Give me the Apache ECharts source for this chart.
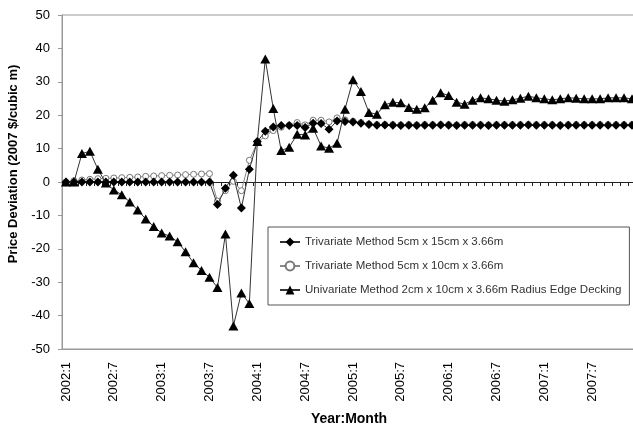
<!DOCTYPE html>
<html>
<head>
<meta charset="utf-8">
<script src="https://cdn.jsdelivr.net/npm/echarts@6/dist/echarts.min.js"></script>
<style>html,body{margin:0;padding:0;background:#fff}#c{width:633px;height:428px}</style>
</head>
<body>
<div id="c"></div>
<script>
var months = [
 "2002:1","2002:2","2002:3","2002:4","2002:5","2002:6","2002:7","2002:8","2002:9","2002:10","2002:11","2002:12",
 "2003:1","2003:2","2003:3","2003:4","2003:5","2003:6","2003:7","2003:8","2003:9","2003:10","2003:11","2003:12",
 "2004:1","2004:2","2004:3","2004:4","2004:5","2004:6","2004:7","2004:8","2004:9","2004:10","2004:11","2004:12",
 "2005:1","2005:2","2005:3","2005:4","2005:5","2005:6","2005:7","2005:8","2005:9","2005:10","2005:11","2005:12",
 "2006:1","2006:2","2006:3","2006:4","2006:5","2006:6","2006:7","2006:8","2006:9","2006:10","2006:11","2006:12",
 "2007:1","2007:2","2007:3","2007:4","2007:5","2007:6","2007:7","2007:8","2007:9","2007:10","2007:11","2007:12"
];
var seriesNames = [
 "Trivariate Method 5cm x 15cm x 3.66m",
 "Trivariate Method 5cm x 10cm x 3.66m",
 "Univariate Method 2cm x 10cm x 3.66m Radius Edge Decking"
];
var tri5x15 = [
 0,0,0,0,0,0,0,0,0,0,0,0,0,0,0,0,0,0,0,
 -6.7,-1.9,2.0,-7.8,3.8,12.1,15.2,16.5,16.9,16.9,16.9,16.3,17.6,17.5,15.8,18.3,18.1,18.0,17.6,17.2,17.0,
 17.1,17.0,16.9,17.0,16.9,17.0,17.0,17.1,17.0,16.9,17.0,17.0,17.0,16.9,17.0,17.0,
 17.0,17.0,17.1,17.0,17.0,17.0,16.9,17.0,17.0,17.0,17.0,17.0,17.0,17.0,17.0,17.0
];
var tri5x10 = [
 0,0.4,0.6,0.8,1.0,1.1,1.2,1.3,1.4,1.5,1.7,1.8,1.9,2.0,2.1,2.2,2.3,2.4,2.5,
 -5.7,-2.6,0.2,-2.6,6.5,11.8,13.8,15.4,16.4,17.0,17.8,17.1,18.5,18.5,18.0,19.2,18.6,18.2,17.8,17.4,17.2,
 17.2,17.2,17.1,17.2,17.1,17.2,17.2,17.2,17.2,17.1,17.2,17.2,17.2,17.1,17.2,17.2,
 17.2,17.2,17.2,17.2,17.2,17.2,17.1,17.2,17.2,17.2,17.2,17.2,17.2,17.2,17.2,17.2
];
var uni2x10 = [
 0,0,8.5,9.2,3.8,-0.3,-2.4,-3.8,-6.0,-8.4,-11.1,-13.3,-15.3,-16.2,-17.9,-20.9,-24.2,-26.5,-28.5,-31.6,
 -15.6,-43.1,-33.2,-36.4,12.1,36.8,22.0,9.4,10.4,14.3,14.1,16.1,10.8,10.1,11.6,21.8,30.6,27.1,20.8,20.3,
 23.1,23.9,23.7,22.3,21.8,22.2,24.5,26.7,25.9,23.9,23.3,24.5,25.2,24.9,24.5,24.2,
 24.6,25.1,25.7,25.2,24.9,24.6,24.9,25.2,25.1,24.9,24.9,24.9,25.2,25.2,25.2,24.9
];

var FONT = "'Liberation Sans', Arial, sans-serif";
var chart = echarts.init(document.getElementById('c'), null, {renderer: 'canvas'});
chart.setOption({
  animation: false,
  backgroundColor: '#fff',
  textStyle: {fontFamily: FONT},
  grid: {left: 62, top: 15, right: -3, bottom: 79, outerBoundsMode: 'none', containLabel: false,
         show: true, borderColor: '#999', borderWidth: 1, backgroundColor: 'transparent'},
  legend: {
    orient: 'vertical', left: 268, top: 227,
    data: seriesNames,
    backgroundColor: '#fff', borderColor: '#555', borderWidth: 1,
    padding: [9, 8, 9, 11], itemGap: 12, itemWidth: 20, itemHeight: 11,
    textStyle: {fontSize: 11.5, color: '#333', fontFamily: FONT}
  },
  xAxis: [
    {
      type: 'category', data: months, position: 'bottom',
      axisLine: {onZero: false, lineStyle: {color: '#999', width: 1}},
      axisTick: {show: false},
      axisLabel: {rotate: 90, interval: 5, fontSize: 13, color: '#000', margin: 13, fontFamily: FONT},
      splitLine: {show: false},
      name: 'Year:Month', nameLocation: 'middle', nameGap: 63,
      nameTextStyle: {fontSize: 14, fontWeight: 'bold', color: '#000', fontFamily: FONT}
    },
    {
      type: 'category', data: months, position: 'top',
      axisLine: {onZero: true, lineStyle: {color: '#222', width: 1}},
      axisTick: {show: true, interval: 0, inside: true, length: 4, lineStyle: {color: '#222'}},
      axisLabel: {show: false},
      splitLine: {show: false}
    }
  ],
  yAxis: {
    type: 'value', min: -50, max: 50, interval: 10,
    axisLine: {show: true, lineStyle: {color: '#999'}},
    axisTick: {show: true, length: 4, lineStyle: {color: '#999'}},
    axisLabel: {fontSize: 13, color: '#000', margin: 12, fontFamily: FONT},
    splitLine: {show: false},
    name: 'Price Deviation (2007 $/cubic m)', nameLocation: 'middle', nameGap: 38,
    nameTextStyle: {fontSize: 13, fontWeight: 'bold', color: '#000', fontFamily: FONT, padding: [0, 0, 0, 36]}
  },
  series: [
    {
      name: seriesNames[0], type: 'line', data: tri5x15, xAxisIndex: 0, z: 3,
      symbol: 'diamond', symbolSize: [9, 9], showAllSymbol: true,
      lineStyle: {color: '#333', width: 1},
      itemStyle: {color: '#000', borderColor: '#000', borderWidth: 0}
    },
    {
      name: seriesNames[1], type: 'line', data: tri5x10, xAxisIndex: 0, z: 2,
      symbol: 'circle', symbolSize: 6, showAllSymbol: true,
      lineStyle: {color: '#888', width: 1},
      itemStyle: {color: '#fff', borderColor: '#777', borderWidth: 1}
    },
    {
      name: seriesNames[2], type: 'line', data: uni2x10, xAxisIndex: 0, z: 4,
      symbol: 'triangle', symbolSize: [10, 9], showAllSymbol: true,
      lineStyle: {color: '#333', width: 1},
      itemStyle: {color: '#000', borderColor: '#000', borderWidth: 0}
    }
  ]
});
</script>
</body>
</html>
